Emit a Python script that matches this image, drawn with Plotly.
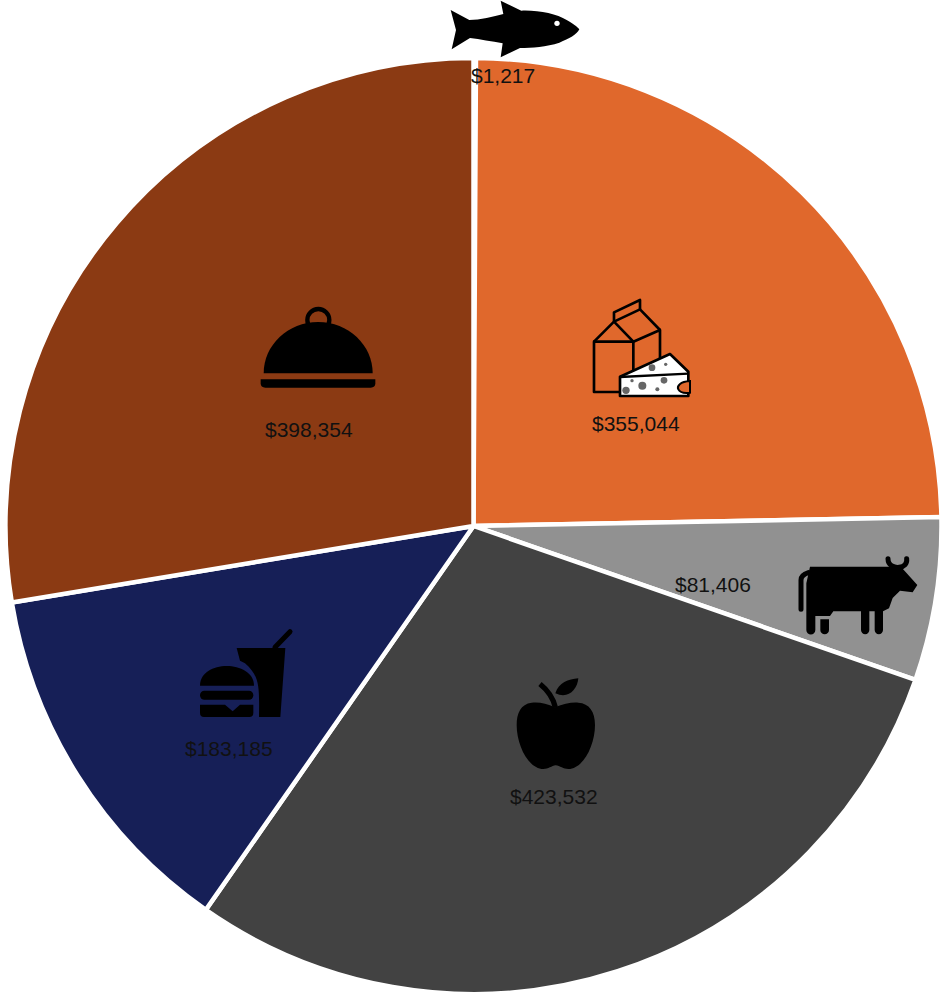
import base64
import plotly.graph_objects as go

W, H = 948, 994

categories = ["Fish", "Dairy", "Meat", "Fruit", "Fast food", "Prepared meals"]
spending = [1217, 355044, 81406, 423532, 183185, 398354]
slice_colors = ["#FFFFFF", "#E0682C", "#919191", "#424242", "#161F57", "#8B3A13"]
label_centers = [(503, 75), (636, 423), (713, 584), (554, 796), (229, 748), (309, 429)]

# Each icon is drawn at three times the pixel size of its box.
FISH = """<path d="M62 30 L118 60 C150 60 190 50 220 42 L212 2 L274 32 C325 30 380 42 410 60 C428 70 442 80 448 88
C440 104 418 116 388 128 C350 140 305 144 270 144 L212 172 L218 130 C185 124 150 118 120 114 L65 148 L78 90 Z" fill="#000"/>
<circle cx="381" cy="70" r="8" fill="#fff"/>"""

DAIRY = """<g fill="none" stroke="#000" stroke-width="8" stroke-linejoin="round">
<path d="M150 336 H72 V185 H190 V272"/>
<path d="M72 185 L132 125 L190 185 L270 150 V262"/>
<path d="M132 125 L210 88 L270 150"/>
<path d="M132 125 V97 L210 60 V88"/></g>
<path d="M150 290 L300 222 L355 275 V348 H150 Z" fill="#fff" stroke="#000" stroke-width="8" stroke-linejoin="round"/>
<path d="M150 291 L355 281" fill="none" stroke="#000" stroke-width="7"/>
<path d="M360 303 C330 305 320 318 325 328 C330 338 345 340 360 338 Z" fill="#E0682C" stroke="#000" stroke-width="6"/>
<g fill="#666"><circle cx="246" cy="263" r="10"/><circle cx="287" cy="253" r="5"/><circle cx="217" cy="317" r="12"/>
<circle cx="282" cy="301" r="10"/><circle cx="262" cy="328" r="6"/><circle cx="186" cy="302" r="5"/>
<circle cx="168" cy="331" r="11"/></g>"""

CLOCHE = """<path d="M71 250 C71 165 144 96 234.5 96 C325 96 398 165 398 250 Z" fill="#000"/>
<circle cx="235" cy="90" r="33" fill="none" stroke="#000" stroke-width="13"/>
<path d="M62 268 H406 V280 Q406 293 392 293 H76 Q62 293 62 280 Z" fill="#000"/>"""

COW = """<path d="M90 80 H325 L366 84 L412 135 L398 157 L360 152 L338 174 L327 205 L309 214 V270 A12 12 0 0 1 284 270 V214
H268 V270 A12 12 0 0 1 243 270 V214 H160 L150 228 H106 V270 A13 13 0 0 1 79 270 V130 Z" fill="#000"/>
<path d="M121 238 H147 V270 A13 13 0 0 1 121 270 Z" fill="#000"/>
<path d="M63 208 V120 Q63 105 85 98" fill="none" stroke="#000" stroke-width="15" stroke-linecap="round"/>
<path d="M324 56 C324 78 345 84 358 82 C372 80 382 72 380 56" fill="none" stroke="#000" stroke-width="15" stroke-linecap="round"/>"""

APPLE = """<path d="M165 112 C140 100 115 95 95 98 C62 102 50 130 50 165 C50 225 85 297 130 297 C145 297 155 288 167 286
C180 288 190 297 205 297 C250 297 285 225 285 165 C285 125 268 100 235 98 C215 96 190 102 165 112 Z" fill="#000"/>
<path d="M120 42 C140 58 158 78 166 112" fill="none" stroke="#000" stroke-width="16"/>
<path d="M166 70 C176 38 205 28 235 25 C232 60 204 88 166 70 Z" fill="#000"/>"""

BURGER = """<path d="M30 197 C30 158 70 138 110 138 C150 138 192 158 192 197 Z" fill="#000"/>
<rect x="30" y="212" width="160" height="27" rx="13" fill="#000"/>
<path d="M30 254 H105 L128 274 L150 254 H190 V278 Q190 291 178 291 H42 Q30 291 30 278 Z" fill="#000"/>
<path d="M140 84 H286 L271 291 H207 C208 200 210 170 165 130 L150 122 Z" fill="#000"/>
<path d="M255 82 L300 35" fill="none" stroke="#000" stroke-width="15" stroke-linecap="round"/>"""

# icon markup with the left, top, width and height of its box
ICONS = [
    (FISH, 430, 0, 170, 100),
    (DAIRY, 570, 280, 140, 130),
    (CLOCHE, 240, 290, 150, 110),
    (COW, 780, 540, 150, 110),
    (APPLE, 500, 670, 110, 110),
    (BURGER, 190, 620, 110, 110),
]


def icon_image(svg, left, top, w, h):
    markup = (f'<svg xmlns="http://www.w3.org/2000/svg" width="{w * 3}" height="{h * 3}" '
              f'viewBox="0 0 {w * 3} {h * 3}">{svg}</svg>')
    encoded = base64.b64encode(markup.encode()).decode()
    return dict(source=f"data:image/svg+xml;base64,{encoded}", xref="paper", yref="paper",
                x=left / W, y=1 - top / H, sizex=w / W, sizey=h / H,
                xanchor="left", yanchor="top", sizing="stretch", layer="above")


fig = go.Figure(go.Pie(
    labels=categories,
    values=spending,
    sort=False,
    direction="clockwise",
    rotation=0,
    textinfo="none",
    marker=dict(colors=slice_colors, line=dict(color="#FFFFFF", width=4.5)),
    domain=dict(x=[4 / W, 943 / W], y=[0, 1 - 58 / H]),
    showlegend=False,
))

for value, (cx, cy) in zip(spending, label_centers):
    fig.add_annotation(text=f"${value:,}", xref="paper", yref="paper",
                       x=cx / W, y=1 - cy / H, xanchor="center", yanchor="middle",
                       showarrow=False,
                       font=dict(family="Liberation Sans, Arial, sans-serif", size=21, color="#111111"))

fig.update_layout(
    width=W, height=H, autosize=False,
    margin=dict(l=0, r=0, t=0, b=0),
    paper_bgcolor="#FFFFFF",
    images=[icon_image(*icon) for icon in ICONS],
)

fig.write_html("out.html", config=dict(displayModeBar=False))
